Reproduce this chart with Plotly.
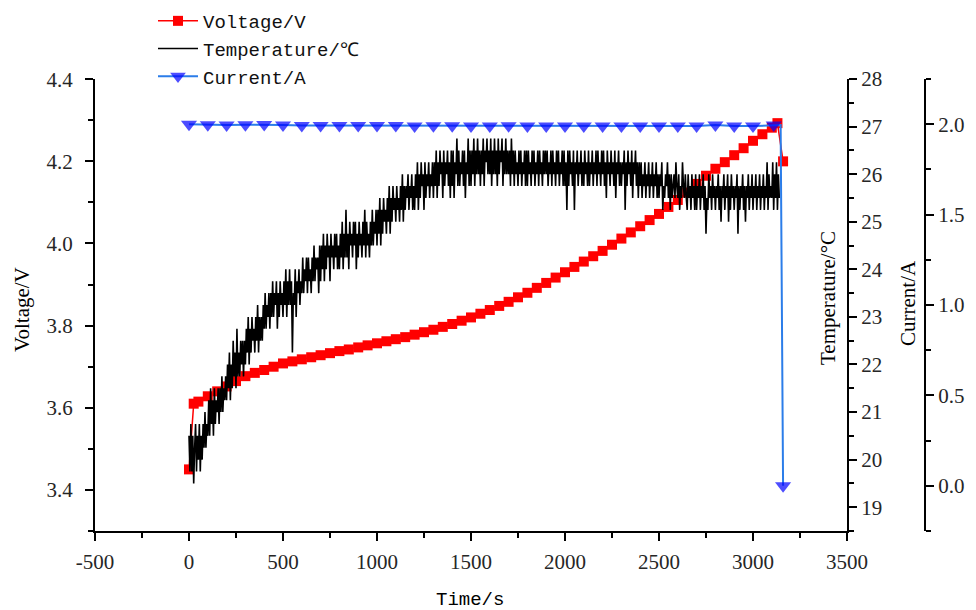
import plotly.graph_objects as go

# ---------------- data ----------------
volt_time = [0, 25, 50, 100, 150, 200, 250, 300, 350, 400, 450, 500, 550, 600, 650,
             700, 750, 800, 850, 900, 950, 1000, 1050, 1100, 1150, 1200, 1250, 1300,
             1350, 1400, 1450, 1500, 1550, 1600, 1650, 1700, 1750, 1800, 1850, 1900,
             1950, 2000, 2050, 2100, 2150, 2200, 2250, 2300, 2350, 2400, 2450, 2500,
             2550, 2600, 2650, 2700, 2750, 2800, 2850, 2900, 2950, 3000, 3050, 3100,
             3130, 3160]
volt_values = [3.45, 3.61, 3.615, 3.628, 3.64, 3.652, 3.665, 3.677, 3.685, 3.692, 3.70,
               3.708, 3.713, 3.718, 3.723, 3.728, 3.733, 3.738, 3.742, 3.747, 3.752,
               3.757, 3.762, 3.767, 3.772, 3.778, 3.784, 3.790, 3.797, 3.804, 3.812,
               3.820, 3.829, 3.838, 3.848, 3.858, 3.869, 3.880, 3.892, 3.904, 3.917,
               3.930, 3.943, 3.956, 3.969, 3.982, 3.997, 4.012, 4.027, 4.042, 4.057,
               4.072, 4.089, 4.106, 4.124, 4.145, 4.165, 4.182, 4.198, 4.215, 4.232,
               4.250, 4.266, 4.282, 4.293, 4.200]

# temperature sampled every 5 s (0 ... 3140 s), one row = 100 s
temp_step = 5
temp_values = [
    20.5, 19.75, 20.75, 19.75, 20.5, 19.5, 20.25, 20.75, 19.75, 20.5, 20.0, 20.75, 19.75, 20.5, 20.0, 20.75, 20.25, 21.0, 20.25, 20.75,
    20.5, 21.25, 20.5, 21.5, 20.75, 21.25, 20.5, 21.5, 20.75, 21.25, 21.0, 21.5, 20.75, 21.5, 21.0, 21.75, 21.0, 21.5, 21.25, 21.75,
    21.25, 22.0, 21.5, 22.25, 21.25, 22.0, 21.5, 22.5, 21.75, 22.25, 21.5, 22.75, 21.75, 22.25, 21.75, 22.5, 22.0, 22.5, 21.75, 22.5,
    22.0, 22.75, 22.25, 23.0, 22.0, 22.75, 22.25, 23.0, 22.5, 22.75, 22.25, 23.0, 22.5, 23.25, 22.25, 23.0, 22.5, 23.0, 22.5, 23.25,
    22.75, 23.5, 22.75, 23.25, 23.0, 23.5, 22.75, 23.5, 23.0, 23.75, 23.0, 23.5, 23.25, 23.75, 22.75, 23.5, 23.0, 23.75, 23.25, 23.5,
    23.0, 23.75, 23.25, 24.0, 23.0, 23.75, 23.25, 24.0, 23.25, 23.75, 22.25, 23.5, 23.25, 24.0, 23.0, 23.75, 23.5, 24.0, 23.25, 23.75,
    23.5, 24.25, 23.5, 24.0, 23.75, 24.25, 23.5, 24.25, 23.75, 24.0, 23.5, 24.25, 23.75, 24.5, 23.75, 24.25, 24.0, 24.25, 23.5, 24.5,
    23.75, 24.5, 24.0, 24.75, 23.75, 24.5, 24.0, 24.75, 24.25, 24.5, 23.75, 24.75, 24.25, 24.5, 24.0, 24.75, 24.25, 24.75, 24.0, 24.5,
    24.0, 24.75, 24.25, 25.0, 24.0, 24.75, 24.25, 25.25, 24.25, 24.75, 24.0, 25.0, 24.5, 24.75, 24.25, 25.0, 24.5, 25.0, 24.0, 24.75,
    24.25, 25.0, 24.5, 24.75, 24.25, 25.0, 24.5, 25.25, 24.25, 25.0, 24.5, 24.75, 24.25, 25.0, 24.5, 25.25, 24.5, 25.0, 24.75, 25.25,
    24.5, 25.25, 24.75, 25.5, 24.5, 25.25, 24.75, 25.5, 25.0, 25.25, 24.75, 25.5, 25.0, 25.75, 24.75, 25.5, 25.0, 25.75, 25.25, 25.5,
    25.0, 25.75, 25.25, 25.5, 25.0, 25.75, 25.25, 26.0, 25.0, 25.75, 25.25, 25.75, 25.5, 26.0, 25.25, 25.75, 25.5, 26.0, 25.25, 25.75,
    25.25, 26.0, 25.5, 26.25, 25.25, 26.0, 25.5, 26.25, 25.75, 26.0, 25.25, 26.25, 25.5, 26.0, 25.75, 26.25, 25.5, 26.0, 25.75, 26.25,
    25.5, 26.25, 25.75, 26.5, 25.5, 26.25, 25.75, 26.5, 26.0, 26.25, 25.5, 26.5, 25.75, 26.25, 26.0, 26.5, 25.75, 26.25, 25.5, 26.5,
    25.75, 26.5, 25.5, 26.25, 26.0, 26.75, 25.75, 26.5, 25.75, 26.25, 26.0, 26.5, 25.75, 26.5, 25.5, 26.25, 26.0, 26.75, 25.75, 26.5,
    25.75, 26.5, 26.0, 26.75, 25.75, 26.5, 26.0, 26.75, 26.0, 26.5, 25.75, 26.5, 26.0, 26.75, 25.75, 26.5, 26.25, 26.75, 26.0, 26.5,
    26.0, 26.75, 25.75, 26.5, 26.0, 26.75, 26.0, 26.5, 25.75, 26.75, 26.0, 26.5, 26.25, 26.75, 25.75, 26.5, 26.0, 26.75, 26.0, 26.5,
    26.0, 26.5, 25.75, 26.75, 26.0, 26.5, 25.75, 26.5, 26.0, 26.25, 25.75, 26.5, 26.0, 26.5, 25.75, 26.25, 26.0, 26.5, 25.75, 26.5,
    25.75, 26.5, 26.0, 26.25, 25.75, 26.5, 26.0, 26.5, 25.75, 26.25, 26.0, 26.5, 25.75, 26.5, 26.0, 26.25, 25.75, 26.5, 26.0, 26.5,
    26.0, 26.5, 25.75, 26.25, 26.0, 26.5, 25.75, 26.5, 26.0, 26.25, 25.75, 26.5, 26.0, 26.5, 25.75, 26.25, 26.0, 26.5, 25.75, 26.5,
    25.75, 26.25, 25.25, 26.5, 25.75, 26.5, 26.0, 26.25, 25.75, 26.5, 25.25, 26.25, 26.0, 26.5, 25.75, 26.25, 26.0, 26.5, 25.75, 26.25,
    25.75, 26.5, 26.0, 26.25, 25.75, 26.5, 25.75, 26.25, 26.0, 26.5, 25.75, 26.25, 26.0, 26.5, 25.75, 26.5, 26.0, 26.25, 25.75, 26.5,
    26.0, 26.5, 25.75, 26.25, 25.5, 26.5, 26.0, 26.25, 25.75, 26.5, 26.0, 26.25, 25.75, 26.5, 25.5, 26.25, 26.0, 26.5, 25.75, 26.25,
    25.75, 26.25, 26.0, 26.5, 25.25, 26.25, 25.75, 26.5, 26.0, 26.25, 25.75, 26.5, 25.5, 26.25, 26.0, 26.5, 25.75, 26.25, 25.5, 26.25,
    25.75, 26.25, 25.5, 26.0, 25.75, 26.25, 25.5, 26.0, 25.75, 26.25, 25.5, 26.0, 25.75, 26.25, 25.5, 26.0, 25.75, 26.25, 25.5, 26.0,
    25.5, 26.0, 25.75, 26.25, 25.25, 25.75, 25.5, 26.0, 25.75, 26.25, 25.5, 26.0, 25.25, 26.0, 25.5, 25.75, 26.0, 25.5, 26.25, 25.75,
    25.5, 26.0, 25.25, 25.75, 25.5, 26.25, 25.75, 25.5, 26.0, 25.5, 25.25, 26.0, 25.5, 25.75, 25.25, 26.0, 25.5, 25.75, 25.25, 26.0,
    25.25, 25.75, 25.5, 26.0, 25.25, 25.75, 25.5, 26.0, 25.25, 25.75, 24.75, 25.5, 25.25, 26.0, 25.5, 25.75, 25.25, 26.0, 25.5, 25.75,
    25.25, 25.75, 25.5, 26.0, 25.25, 25.75, 25.0, 25.75, 25.5, 26.0, 25.25, 25.75, 25.5, 26.0, 25.0, 25.75, 25.25, 26.0, 25.5, 25.75,
    25.25, 25.75, 25.5, 26.0, 24.75, 25.75, 25.25, 25.75, 25.5, 26.0, 25.25, 25.75, 25.0, 25.75, 25.5, 26.0, 25.25, 25.75, 25.5, 26.0,
    25.25, 25.75, 25.5, 26.0, 25.25, 25.75, 25.5, 26.0, 25.25, 25.75, 25.5, 26.0, 25.25, 25.75, 25.5, 26.25, 25.25, 26.0, 25.5, 25.75,
    25.5, 26.25, 25.25, 26.0, 25.5, 26.25, 25.25, 26.0, 25.5,
]
temp_time = [i * temp_step for i in range(len(temp_values))]

curr_time = [0, 100, 200, 300, 400, 500, 600, 700, 800, 900, 1000, 1100, 1200, 1300,
             1400, 1500, 1600, 1700, 1800, 1900, 2000, 2100, 2200, 2300, 2400, 2500,
             2600, 2700, 2800, 2900, 3000, 3110, 3147, 3160]
curr_values = [2.0, 1.997, 1.995, 1.997, 1.998, 1.995, 1.993, 1.993, 1.993, 1.993,
               1.993, 1.993, 1.99, 1.992, 1.992, 1.99, 1.99, 1.992, 1.99, 1.99,
               1.99, 1.99, 1.99, 1.99, 1.99, 1.99, 1.99, 1.99, 1.995, 1.99,
               1.99, 1.995, 1.995, 0.0]

x_tick_vals = [-500, 0, 500, 1000, 1500, 2000, 2500, 3000, 3500]
x_tick_labels = ["-500", "0", "500", "1000", "1500", "2000", "2500", "3000", "3500"]

names = ["Voltage/V", "Temperature/℃", "Current/A"]
axis_titles = ["Voltage/V", "Temperature/°C", "Current/A", "Time/s"]

# ---------------- figure ----------------
W, H = 976, 610
TICK_FONT = dict(family="Liberation Serif", size=21, color="#262626")
MONO = "Liberation Mono"
SERIF = "Liberation Serif"

fig = go.Figure()

fig.add_trace(go.Scatter(
    x=temp_time, y=temp_values, yaxis="y2", mode="lines",
    line=dict(color="black", width=1.6, simplify=False), name=names[1], legendrank=2,
))
fig.add_trace(go.Scatter(
    x=volt_time, y=volt_values, yaxis="y", mode="lines+markers",
    line=dict(color="#ff0000", width=1.5),
    marker=dict(symbol="square", size=10, color="#ff0000", line=dict(width=0)),
    name=names[0], legendrank=1,
))
curr_sizes = [14] * len(curr_time)
curr_sizes[-2] = 0
fig.add_trace(go.Scatter(
    x=curr_time, y=curr_values, yaxis="y3", mode="lines+markers",
    line=dict(color="#2b7de9", width=2),
    marker=dict(symbol="triangle-down", size=curr_sizes, color="#0000ff", line=dict(width=0)),
    name=names[2], legendrank=3,
))

x0, x1 = 95 / W, 847 / W
y0, y1 = 1 - 531 / H, 1 - 79 / H

common = dict(showgrid=False, zeroline=False, showline=True, linecolor="black",
              linewidth=2, ticks="outside", ticklen=8, tickwidth=2, tickcolor="black",
              tickfont=TICK_FONT, automargin=False)

fig.update_layout(
    template="none",
    width=W, height=H,
    margin=dict(l=0, r=0, t=0, b=0, autoexpand=False),
    paper_bgcolor="white", plot_bgcolor="white",
    showlegend=True,
    legend=dict(x=153 / W, y=1 - 2 / H, xanchor="left", yanchor="top",
                font=dict(family=MONO, size=19, color="#111"),
                bgcolor="rgba(0,0,0,0)", borderwidth=0, itemwidth=40),
    xaxis=dict(domain=[x0, x1], range=[-500, 3500], anchor="y",
               tickvals=x_tick_vals, ticktext=x_tick_labels, ticklabelstandoff=3,
               minor=dict(ticks="outside", ticklen=5, tickwidth=2, tickcolor="black",
                          tick0=-250, dtick=500),
               **common),
    yaxis=dict(domain=[y0, y1], range=[3.3, 4.4005], anchor="x",
               tick0=3.4, dtick=0.2, tickformat=".1f", ticklabelstandoff=8,
               minor=dict(ticks="outside", ticklen=5, tickwidth=2, tickcolor="black",
                          tick0=3.3, dtick=0.2),
               **common),
    yaxis2=dict(domain=[y0, y1], range=[18.5, 28.001], overlaying="y", side="right",
                anchor="x", tick0=19, dtick=1,
                minor=dict(ticks="outside", ticklen=5, tickwidth=2, tickcolor="black",
                           tick0=18.5, dtick=1),
                **common),
    yaxis3=dict(domain=[y0, y1], range=[-0.25, 2.25], overlaying="y", side="right",
                anchor="free", position=925 / W, tick0=0, dtick=0.5, tickformat=".1f",
                minor=dict(ticks="outside", ticklen=5, tickwidth=2, tickcolor="black",
                           tick0=0.25, dtick=0.5),
                **common),
    annotations=[
        dict(text=axis_titles[0], x=22 / W, y=1 - 310 / H, xref="paper", yref="paper",
             xanchor="center", yanchor="middle",
             textangle=-90, showarrow=False, font=dict(family=SERIF, size=21, color="black")),
        dict(text=axis_titles[1], x=828 / W, y=1 - 298 / H, xref="paper", yref="paper",
             xanchor="center", yanchor="middle",
             textangle=-90, showarrow=False, font=dict(family=SERIF, size=21, color="black")),
        dict(text=axis_titles[2], x=908 / W, y=1 - 303 / H, xref="paper", yref="paper",
             xanchor="center", yanchor="middle",
             textangle=-90, showarrow=False, font=dict(family=SERIF, size=21, color="black")),
        dict(text=axis_titles[3], x=470 / W, y=1 - 600 / H, xref="paper", yref="paper",
             xanchor="center", yanchor="middle",
             showarrow=False, font=dict(family=MONO, size=19, color="black")),
    ],
)

fig.write_html("out.html")
